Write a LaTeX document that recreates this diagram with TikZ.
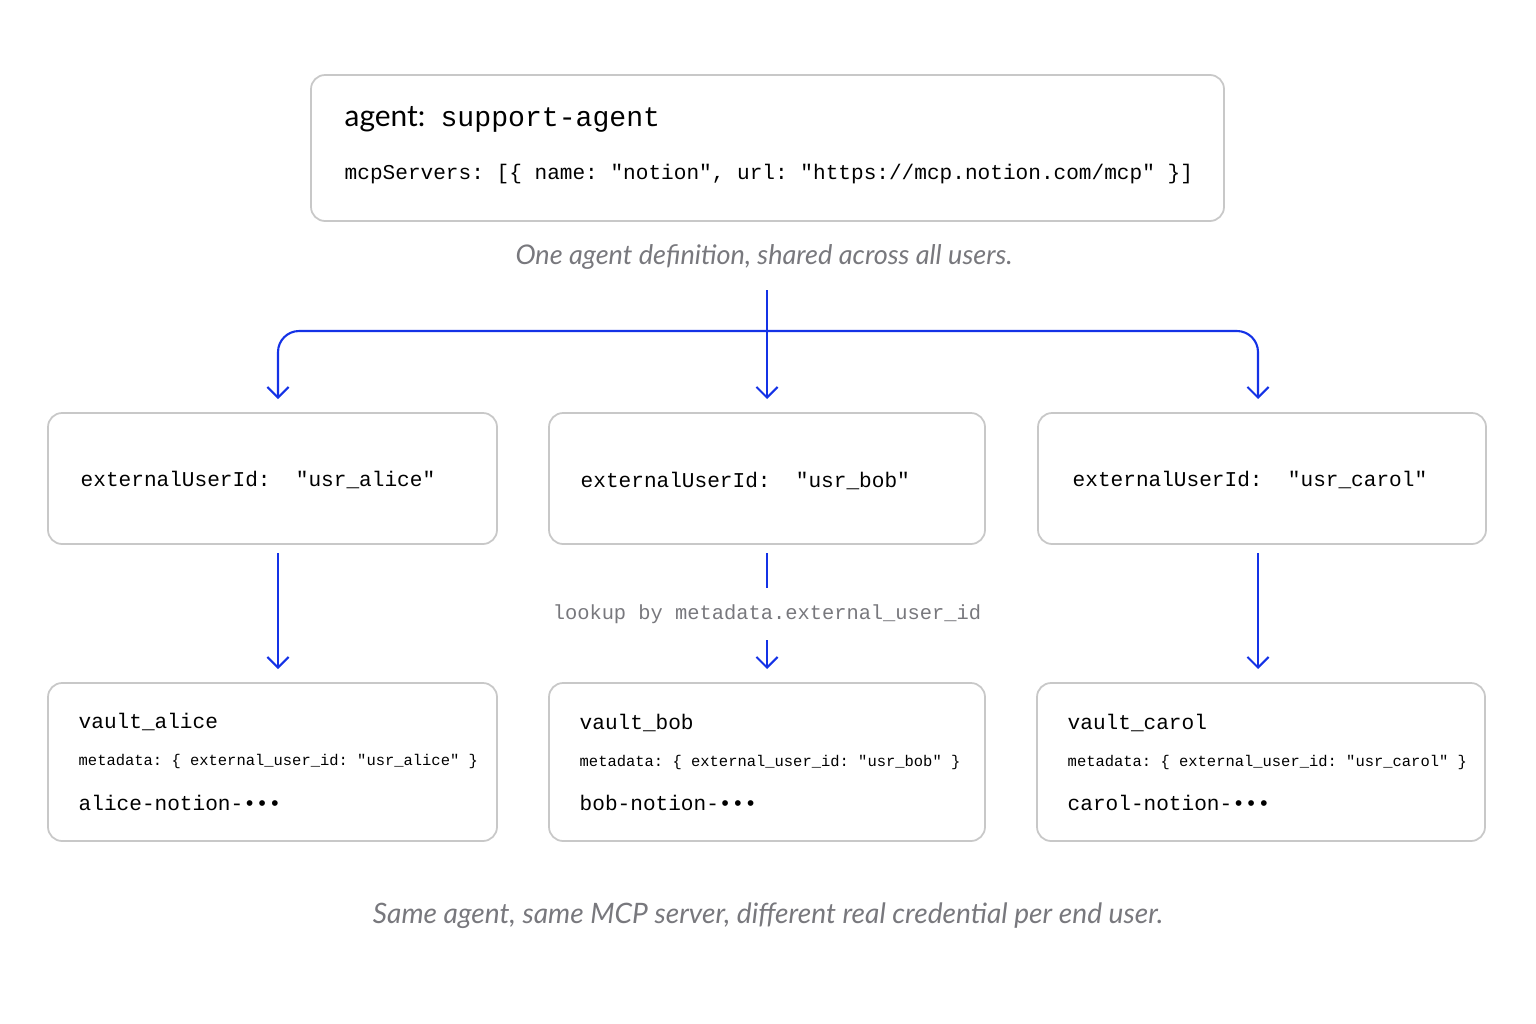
\documentclass[tikz,border=0pt]{standalone}
\usepackage{fontspec}
\setmainfont{Lato}
\setmonofont{Liberation Mono}
\usetikzlibrary{arrows.meta,positioning}
\definecolor{flow}{RGB}{20,50,230}
\definecolor{edge}{RGB}{200,200,200}
\definecolor{note}{RGB}{120,120,125}
\begin{document}
\begin{tikzpicture}[x=0.01cm,y=-0.01cm,
  box/.style = {draw=edge, line width=0.5pt, rounded corners=4pt, fill=white},
  code/.style = {font=\ttfamily\fontsize{6}{7}\selectfont, anchor=west, inner sep=0},
  meta/.style = {font=\ttfamily\fontsize{4.4}{5}\selectfont, anchor=west, inner sep=0},
  caption/.style = {font=\itshape\fontsize{7.7}{9}\selectfont, text=note, inner sep=0},
  link/.style = {draw=flow, line width=0.6pt, -{Straight Barb[length=3pt,width=6pt]}}]
\useasboundingbox (0,0) rectangle (1536,1024);

% agent definition
\draw[box] (311,75) rectangle (1224,221);
\node[inner sep=0, anchor=west] (agent) at (344,119) {\fontsize{8.5}{10}\selectfont agent:\ \ \texttt{\fontsize{8}{10}\selectfont support-agent}};
\node[code] (servers) at (344,174) {mcpServers: [\{ name: "notion", url: "https://mcp.notion.com/mcp" \}]};
\node[caption] (shared) at (764,257) {One agent definition, shared across all users.};

% users
\draw[box] (48,413) rectangle (497,544);
\draw[box] (549,413) rectangle (985,544);
\draw[box] (1038,413) rectangle (1486,544);
\node[code] (alice) at (80,480) {externalUserId:\ \ "usr\_alice"};
\node[code] (bob) at (580,481) {externalUserId:\ \ "usr\_bob"};
\node[code] (carol) at (1072,480) {externalUserId:\ \ "usr\_carol"};

% vaults
\draw[box] (48,683) rectangle (497,841);
\draw[box] (549,683) rectangle (985,841);
\draw[box] (1037,683) rectangle (1485,841);
\node[code] (va) at (78,722) {vault\_alice};
\node[meta] (ma) at (78,761) {metadata: \{ external\_user\_id: "usr\_alice" \}};
\node[code] (ka) at (78,803) {alice-notion-\textbullet\textbullet\textbullet};
\node[code] (vb) at (579,723) {vault\_bob};
\node[meta] (mb) at (579,762) {metadata: \{ external\_user\_id: "usr\_bob" \}};
\node[code] (kb) at (579,803) {bob-notion-\textbullet\textbullet\textbullet};
\node[code] (vc) at (1067,723) {vault\_carol};
\node[meta] (mc) at (1067,762) {metadata: \{ external\_user\_id: "usr\_carol" \}};
\node[code] (kc) at (1067,803) {carol-notion-\textbullet\textbullet\textbullet};

\node[font=\ttfamily\fontsize{5.8}{7}\selectfont, text=note, inner sep=0] (lookup) at (767,614) {lookup by metadata.external\_user\_id};
\node[caption, font=\itshape\fontsize{8}{9}\selectfont] (same) at (768,916) {Same agent, same MCP server, different real credential per end user.};

% connectors
\coordinate (split) at (767,290);
\coordinate (bend) at (767,331);
\coordinate (toA) at (278,399);
\coordinate (toB) at (767,399);
\coordinate (toC) at (1258,399);
\coordinate (fromA) at (278,553);
\coordinate (fromB) at (767,553);
\coordinate (fromC) at (1258,553);
\coordinate (gapB) at (767,588);
\coordinate (backB) at (767,640);
\coordinate (inA) at (278,669);
\coordinate (inB) at (767,669);
\coordinate (inC) at (1258,669);
\draw[link] (split) -- (toB);
\draw[link, rounded corners=6pt] (bend) -| (toA);
\draw[link, rounded corners=6pt] (bend) -| (toC);
\draw[link] (fromA) -- (inA);
\draw[link] (fromC) -- (inC);
\draw[draw=flow, line width=0.6pt] (fromB) -- (gapB);
\draw[link] (backB) -- (inB);
\end{tikzpicture}
\end{document}
